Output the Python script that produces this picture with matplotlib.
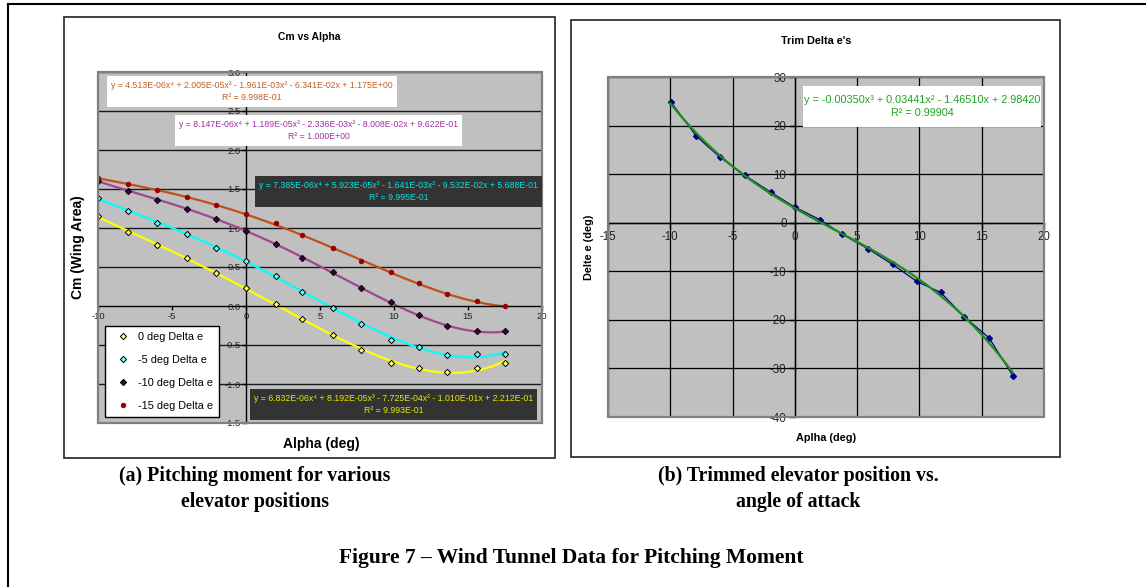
import matplotlib
matplotlib.use("Agg")
import matplotlib.pyplot as plt
from matplotlib.patches import Rectangle
from matplotlib.lines import Line2D
import numpy as np

plt.rcParams["font.family"] = ["Liberation Sans", "DejaVu Sans"]
plt.rcParams["axes.unicode_minus"] = False

W, H = 1146, 587

# --- Chart (a): Cm vs alpha for four elevator settings ---
alpha = [-10, -8, -6, -4, -2, 0, 2, 3.8, 5.9, 7.8, 9.8, 11.7, 13.6, 15.6, 17.5]
cm_0 = [1.15, 0.95, 0.78, 0.61, 0.42, 0.23, 0.03, -0.17, -0.37, -0.56, -0.73, -0.80, -0.85, -0.79, -0.73]
cm_m5 = [1.38, 1.22, 1.07, 0.92, 0.75, 0.58, 0.39, 0.18, -0.03, -0.23, -0.43, -0.53, -0.63, -0.62, -0.61]
cm_m10 = [1.60, 1.48, 1.36, 1.25, 1.11, 0.96, 0.79, 0.62, 0.43, 0.23, 0.05, -0.12, -0.26, -0.32, -0.32]
cm_m15 = [1.64, 1.57, 1.49, 1.40, 1.30, 1.18, 1.06, 0.91, 0.74, 0.58, 0.43, 0.30, 0.16, 0.06, 0.00]
series_labels = ["0 deg Delta e", "-5 deg Delta e", "-10 deg Delta e", "-15 deg Delta e"]

# polynomial trendline coefficients as printed on the chart
coef_0 = [6.832e-06, 8.192e-05, -7.725e-04, -1.010e-01, 2.212e-01]
coef_m5 = [7.385e-06, 5.923e-05, -1.641e-03, -9.532e-02, 5.688e-01]
coef_m10 = [8.147e-06, 1.189e-05, -2.336e-03, -8.008e-02, 9.622e-01]
coef_m15 = [4.513e-06, 2.005e-05, -1.961e-03, -6.341e-02, 1.175e+00]

# --- Chart (b): trimmed elevator deflection ---
trim_alpha = [-9.95, -7.9, -6.0, -4.0, -1.95, 0, 2.03, 3.77, 5.9, 7.85, 9.8, 11.7, 13.6, 15.6, 17.5]
trim_de = [24.85, 17.8, 13.45, 9.75, 6.3, 3.2, 0.6, -2.35, -5.4, -8.6, -12.1, -14.35, -19.35, -23.75, -31.5]
trim_coef = [-0.00350, 0.03441, -1.46510, 2.98420]


def rect(x0, y0, x1, y1):
    return [x0 / W, 1 - y1 / H, (x1 - x0) / W, (y1 - y0) / H]


def fig_box(fig, x0, y0, x1, y1, fc="none", ec="black", lw=1.0, z=5):
    fig.add_artist(Rectangle((x0 / W, 1 - y1 / H), (x1 - x0) / W, (y1 - y0) / H,
                             transform=fig.transFigure, facecolor=fc, edgecolor=ec,
                             lw=lw, zorder=z))


def fig_text(fig, x, y, s, **kw):
    fig.text(x / W, 1 - y / H, s, ha="center", va="center", **kw)


def excel_axes(ax):
    ax.set_facecolor("#C0C0C0")
    ax.spines["left"].set_position(("data", 0))
    ax.spines["bottom"].set_position(("data", 0))
    ax.spines["top"].set_visible(False)
    ax.spines["right"].set_visible(False)
    for s in ("left", "bottom"):
        ax.spines[s].set_color("black")
        ax.spines[s].set_linewidth(1.0)
    ax.add_patch(Rectangle((0, 0), 1, 1, transform=ax.transAxes, fill=False,
                           edgecolor="#808080", lw=1.6, clip_on=False, zorder=4))


fig = plt.figure(figsize=(W / 100, H / 100), dpi=100)

# outer frame (left + top) and chart frames
fig.add_artist(Line2D([7.5 / W, 7.5 / W], [1 - 4 / H, 0], transform=fig.transFigure, color="black", lw=1.5))
fig.add_artist(Line2D([7.5 / W, 1], [1 - 4 / H, 1 - 4 / H], transform=fig.transFigure, color="black", lw=1.5))
fig_box(fig, 64, 17, 555, 458, ec="#333333", lw=1.3, z=-1)
fig_box(fig, 571, 20, 1060, 457, ec="#333333", lw=1.3, z=-1)

# ---------------- chart (a) ----------------
ax1 = fig.add_axes(rect(98, 72, 542, 423))
excel_axes(ax1)
ax1.set_xlim(-10, 20)
ax1.set_ylim(-1.5, 3.0)
ax1.set_xticks(range(-10, 21, 5))
ax1.set_yticks(np.arange(-1.5, 3.01, 0.5))
ax1.yaxis.set_major_formatter(matplotlib.ticker.FormatStrFormatter("%.1f"))
for yv in np.arange(-1.5, 3.01, 0.5):
    if abs(yv) > 1e-9:
        ax1.axhline(yv, color="#1a1a1a", lw=1.0, zorder=1)
ax1.tick_params(axis="both", direction="out", length=3, width=1, labelsize=6.8,
                labelcolor="#222222", pad=1)

xs = np.linspace(-10, 17.5, 200)
styles = [
    (cm_0, coef_0, "#FFFF00", "#FFFF66", "D"),
    (cm_m5, coef_m5, "#00FFFF", "#66FFFF", "D"),
    (cm_m10, coef_m10, "#A0478F", "#400040", "D"),
    (cm_m15, coef_m15, "#C0501C", "#990000", "o"),
]
handles = []
for (vals, coef, lc, mc, mk), lab in zip(styles, series_labels):
    ax1.plot(xs, np.polyval(coef, xs), color=lc, lw=1.6, zorder=2)
    h, = ax1.plot(alpha, vals, linestyle="none", marker=mk, ms=3.2, mfc=mc,
                  mec="black" if mk == "D" else mc, mew=0.7, zorder=3, label=lab)
    handles.append(h)

leg = ax1.legend(handles=handles, loc="upper left", bbox_to_anchor=(105 / W, 1 - 326 / H),
                 bbox_transform=fig.transFigure, borderaxespad=0, fontsize=7.8,
                 frameon=True, fancybox=False, edgecolor="black", framealpha=1,
                 borderpad=0.55, handlelength=2.3, handletextpad=0.2, labelspacing=1.2,
                 numpoints=1)
leg.get_frame().set_linewidth(1.0)
leg.set_zorder(6)

fig_text(fig, 309, 37, "Cm vs Alpha", fontsize=7.5, fontweight="bold")
fig_text(fig, 321, 444, "Alpha (deg)", fontsize=10, fontweight="bold")
fig_text(fig, 78, 247, "Cm (Wing Area)", fontsize=10, fontweight="bold", rotation=90)

eq_boxes = [
    ((107, 76, 397, 107), "white", "#C0602A",
     "y = 4.513E-06x\u2074 + 2.005E-05x\u00b3 - 1.961E-03x\u00b2 - 6.341E-02x + 1.175E+00\nR\u00b2 = 9.998E-01"),
    ((175, 115, 462, 146), "white", "#A030A0",
     "y = 8.147E-06x\u2074 + 1.189E-05x\u00b3 - 2.336E-03x\u00b2 - 8.008E-02x + 9.622E-01\nR\u00b2 = 1.000E+00"),
    ((255, 176, 542, 207), "#333333", "#00E6E6",
     "y = 7.385E-06x\u2074 + 5.923E-05x\u00b3 - 1.641E-03x\u00b2 - 9.532E-02x + 5.688E-01\nR\u00b2 = 9.995E-01"),
    ((250, 389, 537, 420), "#333333", "#E8E800",
     "y = 6.832E-06x\u2074 + 8.192E-05x\u00b3 - 7.725E-04x\u00b2 - 1.010E-01x + 2.212E-01\nR\u00b2 = 9.993E-01"),
]
for (x0, y0, x1, y1), fc, tc, s in eq_boxes:
    fig_box(fig, x0, y0, x1, y1, fc=fc, ec="none", z=5)
    fig_text(fig, (x0 + x1) / 2, (y0 + y1) / 2, s, fontsize=6.3, color=tc,
             linespacing=1.5, multialignment="center", zorder=6)

# ---------------- chart (b) ----------------
ax2 = fig.add_axes(rect(608, 77, 1044, 417))
excel_axes(ax2)
ax2.set_xlim(-15, 20)
ax2.set_ylim(-40, 30)
ax2.set_xticks(range(-15, 21, 5))
ax2.set_yticks(range(-40, 31, 10))
ax2.grid(True, color="black", lw=0.9, zorder=1)
ax2.set_axisbelow(True)
ax2.tick_params(axis="both", direction="out", length=4, width=1, labelsize=8.3,
                labelcolor="#222222", pad=2)

ax2.plot(trim_alpha, trim_de, color="#000080", lw=0.9, marker="D", ms=3, mfc="#000080",
         mec="#000080", zorder=3)
xs2 = np.linspace(-10, 17.5, 200)
ax2.plot(xs2, np.polyval(trim_coef, xs2), color="#1E8C1E", lw=1.6, zorder=4)

fig_text(fig, 816, 41, "Trim Delta e's", fontsize=7.8, fontweight="bold")
fig_text(fig, 826, 438, "Aplha (deg)", fontsize=7.8, fontweight="bold")
fig_text(fig, 589, 247, "Delte e (deg)", fontsize=7.8, fontweight="bold", rotation=90)

fig_box(fig, 803, 86, 1041, 127, fc="white", ec="none", z=5)
fig_text(fig, 922, 106.5, "y = -0.00350x\u00b3 + 0.03441x\u00b2 - 1.46510x + 2.98420\nR\u00b2 = 0.99904",
         fontsize=7.8, color="#22A022", linespacing=1.4, multialignment="center", zorder=6)

# ---------------- captions ----------------
serif = ["Liberation Serif", "DejaVu Serif"]
fig_text(fig, 255, 476, "(a) Pitching moment for various", family=serif, fontweight="bold", fontsize=14.3)
fig_text(fig, 255, 502, "elevator positions", family=serif, fontweight="bold", fontsize=14.3)
fig_text(fig, 798, 476, "(b) Trimmed elevator position vs.", family=serif, fontweight="bold", fontsize=14.3)
fig_text(fig, 798, 502, "angle of attack", family=serif, fontweight="bold", fontsize=14.3)
fig_text(fig, 571, 558, "Figure 7 \u2013 Wind Tunnel Data for Pitching Moment", family=serif,
         fontweight="bold", fontsize=15.5)

fig.savefig("out.png", dpi=100)
